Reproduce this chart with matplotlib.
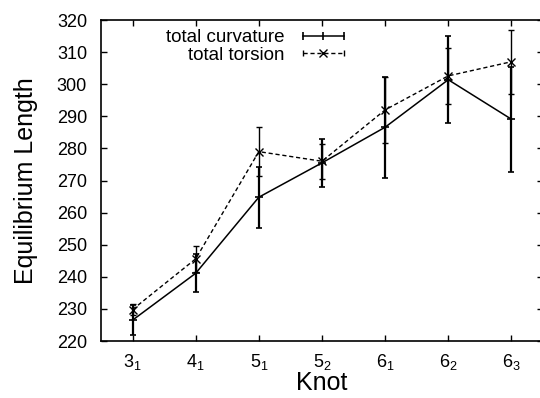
import matplotlib
matplotlib.use("Agg")
import matplotlib.pyplot as plt
from matplotlib.lines import Line2D
from matplotlib.legend_handler import HandlerLine2D

plt.rcParams['font.family'] = ['Liberation Sans', 'DejaVu Sans']
plt.rcParams['mathtext.default'] = 'regular'

knots = ["3_1", "4_1", "5_1", "5_2", "6_1", "6_2", "6_3"]
curvature = [226.5, 241.1, 264.8, 275.5, 286.6, 301.4, 289.1]
curvature_err = [4.6, 5.9, 9.5, 7.5, 15.7, 13.6, 16.4]
torsion = [229.8, 245.6, 279.0, 276.0, 292.0, 302.6, 307.0]
torsion_err = [1.8, 4.1, 7.6, 5.4, 10.3, 8.8, 10.0]

x = list(range(1, len(knots) + 1))
tick_labels = [r"$%s_{%s}$" % tuple(k.split("_")) for k in knots]

fig = plt.figure(figsize=(5.4, 3.98), dpi=100)
ax = fig.add_axes([0.187, 0.1432, 0.8185, 0.8065])

curv_style = dict(color='black', lw=1.1)
tors_style = dict(color='black', lw=1.0, ls=(0, (3, 2)))

ax.errorbar(x, curvature, yerr=curvature_err, elinewidth=1.6, capsize=2.5,
            capthick=1.6, marker='_', ms=6, mew=1.2, **curv_style)
ax.errorbar(x, torsion, yerr=torsion_err, elinewidth=1.0, capsize=2,
            capthick=1.0, marker='x', ms=6, mew=1.0, **tors_style)

ax.set_xlim(0.5, 7.5)
ax.set_ylim(220, 320)
ax.set_yticks(range(220, 321, 10))
ax.set_xticks(x)
ax.set_xticklabels(tick_labels)

ax.tick_params(direction='in', length=4, width=1, top=True, right=True,
               labelsize=13)
ax.tick_params(axis='y', pad=10)
ax.tick_params(axis='x', pad=8)
for s in ax.spines.values():
    s.set_linewidth(1.2)

ax.set_xlabel('Knot', fontsize=18, labelpad=-1)
ax.set_ylabel('Equilibrium Length', fontsize=18, labelpad=13.5)

# legend keys: line with small end ticks, centre point marker
curv_key = Line2D([], [], marker='|', ms=6, mew=1.2, **curv_style)
tors_caps = Line2D([], [], marker='|', ms=4, mew=1.0, **tors_style)
tors_mark = Line2D([], [], ls='none', marker='x', ms=6, mew=1.0,
                   color='black')
leg = ax.legend([curv_key, (tors_caps, tors_mark)],
                ['total curvature', 'total torsion'],
                handler_map={curv_key: HandlerLine2D(numpoints=3),
                             tors_caps: HandlerLine2D(numpoints=2),
                             tors_mark: HandlerLine2D(numpoints=1)},
                loc='upper right', bbox_to_anchor=(0.562, 0.971),
                frameon=False, fontsize=13.5, markerfirst=False,
                handlelength=2.8, handleheight=0.7, labelspacing=0.0,
                borderpad=0.0, borderaxespad=0.0, handletextpad=0.65)

fig.savefig('out.png', dpi=100)
